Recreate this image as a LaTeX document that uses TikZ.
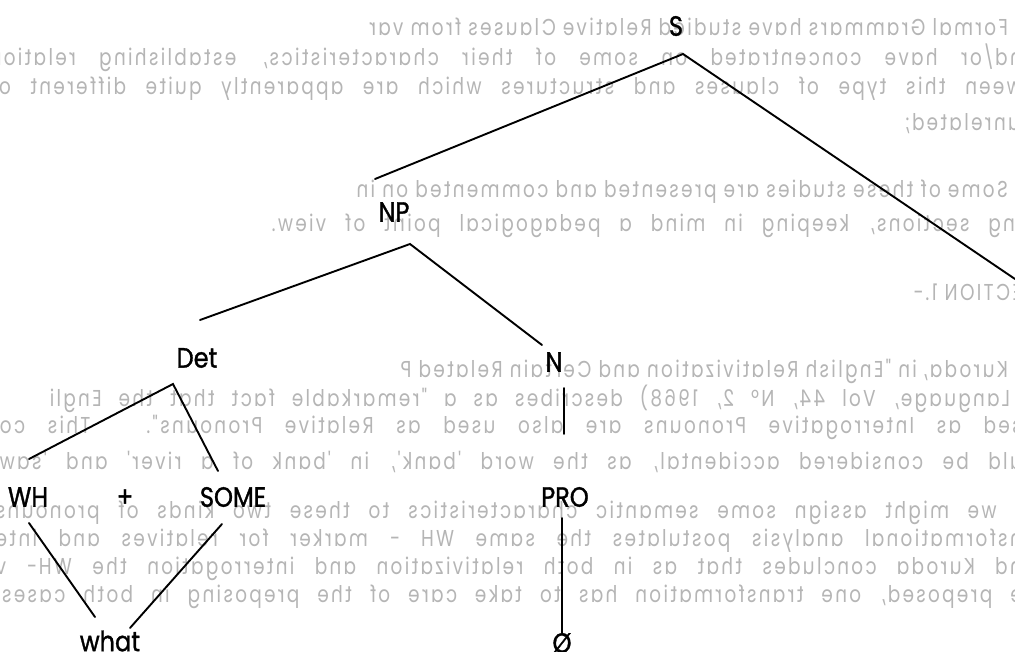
\documentclass[tikz,border=0pt]{standalone}
\usepackage{fontspec}
\usepackage{graphicx}
\newfontfamily\treefont{Poppins}[FakeStretch=0.86, FakeBold=1.2]
\newfontfamily\bleedfont{Poppins}[FakeStretch=0.8, LetterSpace=10]
\tikzset{
	cat/.style={font=\treefont\fontsize{28}{28}\selectfont, inner sep=0pt},
	branch/.style={line width=1.9pt, line cap=round},
	bleed/.style={font=\bleedfont\fontsize{23}{23}\selectfont, text=black!29, inner sep=0pt}
}
% text showing through from the back of the sheet
\newcommand{\backline}[2]{\reflectbox{\makebox[#1][s]{#2}}}

\begin{document}
\begin{tikzpicture}[x=1pt,y=-1pt]
	\useasboundingbox (0,0) rectangle (1015,651);

	% show-through text
	\node[bleed, anchor=east] (b1) at (1008,27) {\reflectbox{Formal Grammars have studied Relative Clauses from var}};
	\node[bleed, anchor=east] (b2) at (1022,58) {\backline{1032pt}{nd/or have concentrated on some of their characteristics, establishing relation}};
	\node[bleed, anchor=east] (b3) at (1022,89) {\backline{1032pt}{ween this type of clauses and structures which are apparently quite different or}};
	\node[bleed, anchor=east] (b4) at (1020,124) {\reflectbox{unrelated;}};
	\node[bleed, anchor=east] (b5) at (1008,192) {\reflectbox{Some of these studies are presented and commented on in}};
	\node[bleed, anchor=east] (b6) at (1022,226) {\backline{750pt}{ing sections, keeping in mind a pedagogical point of view.}};
	\node[bleed, anchor=east] (b7) at (1022,292) {\reflectbox{ECTION 1.-}};
	\node[bleed, anchor=east] (b8) at (1008,371) {\reflectbox{Kuroda, in "English Relativization and Certain Related P}};
	\node[bleed, anchor=east] (b9) at (1010,399) {\backline{960pt}{Language, Vol 44, Nº 2, 1968) describes as a "remarkable fact that the Engli}};
	\node[bleed, anchor=east] (b10) at (1022,427) {\backline{1022pt}{sed as Interrogative Pronouns are also used as Relative Pronouns". This co}};
	\node[bleed, anchor=east] (b11) at (1022,462) {\backline{1022pt}{uld be considered accidental, as the word 'bank', in 'bank of a river' and 'saw}};
	\node[bleed, anchor=east] (b12) at (1022,513) {\backline{1026pt}{, we might assign some semantic characteristics to these two kinds of pronouns}};
	\node[bleed, anchor=east] (b13) at (1022,541) {\backline{1026pt}{nsformational analysis postulates the same WH - marker for relatives and inte}};
	\node[bleed, anchor=east] (b14) at (1022,569) {\backline{1026pt}{nd Kuroda concludes that as in both relativization and interrogation the WH- v}};
	\node[bleed, anchor=east] (b15) at (1022,597) {\backline{1026pt}{e preposed, one transformation has to take care of the preposing in both cases.}};

	% tree labels
	\node[cat] (S) at (676,26) {S};
	\node[cat] (NP) at (394,212) {NP};
	\node[cat] (Det) at (197,358) {Det};
	\node[cat] (N) at (554,362) {N};
	\node[cat] (WH) at (28,497) {WH};
	\node[cat] (plus) at (125,498) {+};
	\node[cat] (SOME) at (233,497) {SOME};
	\node[cat] (PRO) at (565,497) {PRO};
	\node[cat] (what) at (110,641) {what};
	\node[cat] (zero) at (562,643) {Ø};

	% ends of the branches
	\coordinate (s-top) at (683,54);
	\coordinate (s-np) at (375,179);
	\coordinate (s-off) at (1015,279);
	\coordinate (np-top) at (410,244);
	\coordinate (np-det) at (200,320);
	\coordinate (np-n) at (542,345);
	\coordinate (det-top) at (173,384);
	\coordinate (det-wh) at (29,459);
	\coordinate (det-some) at (218,471);
	\coordinate (n-top) at (564,388);
	\coordinate (n-pro) at (564,434);
	\coordinate (pro-top) at (562,518);
	\coordinate (pro-zero) at (562,633);
	\coordinate (wh-top) at (29,523);
	\coordinate (some-top) at (222,524);
	\coordinate (what-l) at (95,617);
	\coordinate (what-r) at (130,628);

	\draw[branch] (s-np) -- (s-top) -- (s-off);
	\draw[branch] (np-det) -- (np-top) -- (np-n);
	\draw[branch] (det-wh) -- (det-top) -- (det-some);
	\draw[branch] (n-top) -- (n-pro);
	\draw[branch] (pro-top) -- (pro-zero);
	\draw[branch] (wh-top) -- (what-l);
	\draw[branch] (some-top) -- (what-r);
\end{tikzpicture}
\end{document}
